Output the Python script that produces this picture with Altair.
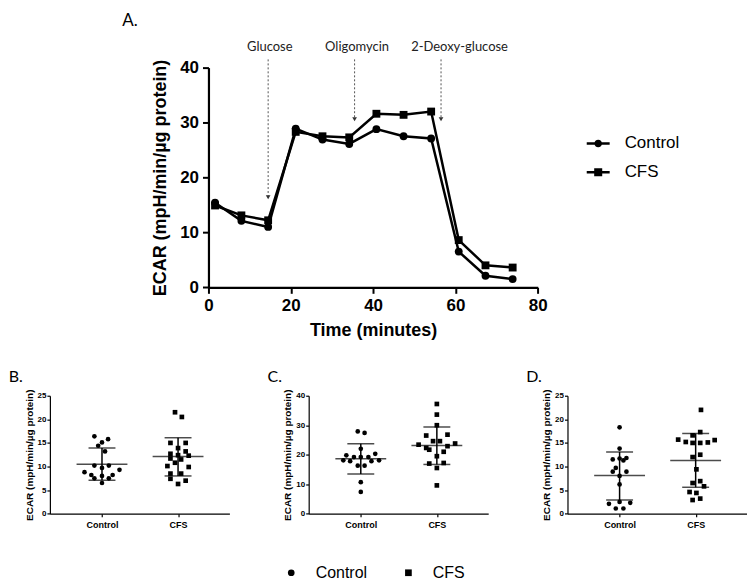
import altair as alt
import pandas as pd

# ---------------- Panel A: ECAR time course ----------------
time_min = [1.6, 8.0, 14.5, 21.2, 27.7, 34.2, 40.8, 47.4, 54.1, 60.8, 67.3, 73.9]
ecar_control = [15.4, 12.1, 11.0, 28.9, 26.9, 26.1, 28.8, 27.5, 27.1, 6.5, 2.1, 1.5]
ecar_cfs = [14.9, 13.1, 12.2, 28.3, 27.5, 27.3, 31.6, 31.4, 32.0, 8.6, 4.0, 3.6]
groups = ["Control", "CFS"]

injections = ["Glucose", "Oligomycin", "2-Deoxy-glucose"]
injection_time = [14.5, 35.5, 56.5]
arrow_tip = [16.4, 30.6, 30.6]
arrow_top = [41.5, 41.5, 41.5]
label_time = [14.9, 36.1, 61.0]
label_level = [43.8, 43.8, 43.8]

# ---------------- Panels B-D: individual values (jitter offset, value) ----------------
b_ctrl_val = [16.4, 15.8, 15.1, 14.4, 13.2, 10.2, 10.2, 9.7, 8.8, 9.3, 8.2, 8.2, 8.0, 7.5, 7.5, 6.5]
b_ctrl_off = [-0.10, 0.08, 0.0, -0.05, 0.04, -0.10, 0.09, 0.0, -0.23, 0.23, -0.14, 0.14, 0.0, -0.10, 0.09, 0.0]
b_cfs_val = [21.5, 20.5, 15.0, 15.0, 13.9, 13.2, 12.7, 12.4, 12.3, 11.7, 11.5, 10.8, 10.1, 9.9, 8.5, 8.5, 7.4, 7.0, 6.3]
b_cfs_off = [-0.04, 0.05, -0.10, 0.10, 0.0, 0.10, -0.10, 0.0, 0.14, -0.10, 0.04, -0.04, -0.14, 0.14, -0.10, 0.04, -0.10, 0.10, 0.0]

c_ctrl_val = [27.9, 27.4, 22.0, 19.8, 19.2, 19.2, 19.2, 20.3, 18.1, 17.8, 17.8, 18.1, 16.3, 16.3, 10.7, 7.4]
c_ctrl_off = [-0.04, 0.05, 0.0, -0.19, -0.09, 0.0, 0.10, 0.19, -0.23, -0.14, 0.14, 0.24, -0.04, 0.05, 0.0, 0.0]
c_cfs_val = [37.2, 33.6, 30.0, 26.5, 26.8, 24.6, 24.6, 23.4, 23.8, 22.3, 22.9, 21.7, 21.0, 19.5, 17.0, 17.2, 15.5, 9.6]
c_cfs_off = [0.0, 0.0, 0.0, -0.14, 0.14, -0.05, 0.04, -0.24, 0.24, -0.14, 0.14, -0.10, 0.09, 0.0, -0.10, 0.09, 0.0, 0.0]

d_ctrl_val = [18.3, 13.8, 11.5, 11.7, 11.3, 11.8, 9.7, 8.9, 8.9, 8.0, 6.2, 2.1, 2.5, 2.3, 1.1, 1.1]
d_ctrl_off = [0.0, 0.0, -0.09, 0.0, 0.05, 0.09, -0.05, -0.09, 0.09, 0.0, 0.0, -0.14, 0.0, 0.14, -0.05, 0.05]
d_cfs_val = [22.0, 17.3, 16.6, 15.7, 15.2, 15.0, 15.0, 15.1, 15.6, 12.0, 12.5, 9.4, 6.5, 6.9, 5.8, 4.6, 4.4, 2.9, 3.2]
d_cfs_off = [0.07, 0.06, -0.04, -0.23, -0.13, -0.04, 0.06, 0.16, 0.25, -0.04, 0.06, 0.01, -0.04, 0.06, 0.11, -0.08, 0.01, -0.04, 0.06]

# mean and SD limits [Control, CFS]
b_mean, b_hi, b_lo = [10.5, 12.1], [13.9, 16.1], [7.1, 8.0]
c_mean, c_hi, c_lo = [18.6, 23.1], [23.7, 29.4], [13.5, 16.7]
d_mean, d_hi, d_lo = [8.1, 11.3], [13.1, 17.0], [2.9, 5.6]

# ---------------- styling ----------------
AX_FONT = "Liberation Sans"
NOTE_FONT = "Lato"
YTITLE = "ECAR (mpH/min/µg protein)"
# legend glyphs: a short line with a marker on it (filled shapes only)
PATH_C = "M-1,-0.11H1V0.11H-1Z M0.33,0A0.33,0.33,0,1,1,-0.33,0A0.33,0.33,0,1,1,0.33,0Z"
PATH_S = "M-1,-0.11H1V0.11H-1Z M-0.35,-0.35H0.35V0.35H-0.35Z"

dfA = pd.DataFrame({
    "time": time_min * 2,
    "ecar": ecar_control + ecar_cfs,
    "series": ["Control"] * len(time_min) + ["CFS"] * len(time_min),
})
dfInj = pd.DataFrame({"name": injections, "t": injection_time, "tip": arrow_tip,
                      "top": arrow_top, "lt": label_time, "ly": label_level})


def xA(field):
    return alt.X(f"{field}:Q", scale=alt.Scale(domain=[0, 80], nice=False, zero=False),
                 axis=alt.Axis(values=[0, 20, 40, 60, 80], title="Time (minutes)", grid=False,
                               labelFont=AX_FONT, labelFontSize=17, labelFontWeight="bold",
                               labelColor="black", titleFont=AX_FONT, titleFontSize=18,
                               titleFontWeight="bold", titleColor="black", domainColor="black",
                               domainWidth=2.2, tickColor="black", tickWidth=2, tickSize=6,
                               labelPadding=4, titlePadding=8, labelFlush=False))


def yA(field):
    return alt.Y(f"{field}:Q", scale=alt.Scale(domain=[0, 40], nice=False, zero=False),
                 axis=alt.Axis(values=[0, 10, 20, 30, 40], title=YTITLE, grid=False,
                               labelFont=AX_FONT, labelFontSize=17, labelFontWeight="bold",
                               labelColor="black", titleFont=AX_FONT, titleFontSize=18,
                               titleFontWeight="bold", titleColor="black", domainColor="black",
                               domainWidth=2.2, tickColor="black", tickWidth=2, tickSize=6,
                               labelPadding=4, titlePadding=10, labelFlush=False))


baseA = alt.Chart(dfA)
linesA = baseA.mark_line(color="black", strokeWidth=2.5).encode(
    x=xA("time"), y=yA("ecar"), detail="series:N")
ptsA = baseA.mark_point(filled=True, opacity=1, color="black", size=62).encode(
    x=xA("time"), y=yA("ecar"),
    shape=alt.Shape("series:N", scale=alt.Scale(domain=groups, range=["circle", "square"]), legend=None))
legA = baseA.transform_filter("datum.time < -1000").mark_point(
    filled=True, color="black", opacity=1).encode(
    x=xA("time"), y=yA("ecar"),
    shape=alt.Shape("series:N", scale=alt.Scale(domain=groups, range=[PATH_C, PATH_S]),
                    legend=alt.Legend(title=None, orient="none", legendX=379.3, legendY=64.5,
                                      symbolSize=529, symbolStrokeWidth=0,
                                      symbolFillColor="black", symbolOpacity=1, labelFont=AX_FONT,
                                      labelFontSize=17, labelColor="black", labelOffset=15,
                                      rowPadding=9, padding=0)))
arrowsA = alt.Chart(dfInj).mark_rule(color="#555", strokeWidth=1, strokeDash=[2, 2]).encode(
    x=xA("t"), y=yA("top"), y2="tip:Q")
headsA = alt.Chart(dfInj).mark_point(shape="triangle-down", filled=True, color="#333",
                                     size=22, opacity=1).encode(x=xA("t"), y=yA("tip"))
labelsA = alt.Chart(dfInj).mark_text(font=NOTE_FONT, fontSize=13, color="#222",
                                     baseline="middle").encode(x=xA("lt"), y=yA("ly"), text="name:N")

chartA = alt.layer(linesA, ptsA, legA, arrowsA, headsA, labelsA).resolve_scale(
    shape="independent").properties(
    width=330.2, height=220.3,
    title=alt.TitleParams("A.", anchor="start", frame="group", dx=-86.5, offset=11,
                          font=NOTE_FONT, fontSize=17, fontWeight="normal", color="black"))

spacer = alt.Chart(pd.DataFrame({"s": [0]})).mark_text(text="").encode(
    x=alt.X("s:Q", axis=None), y=alt.Y("s:Q", axis=None)).properties(width=158.2, height=10)

row1 = alt.hconcat(spacer, chartA, spacing=0, bounds="flush")


# ---------------- scatter panels ----------------
def xP(field):
    return alt.X(f"{field}:Q", scale=alt.Scale(domain=[0.315, 2.675], nice=False, zero=False),
                 axis=alt.Axis(values=[1, 2], labelExpr="datum.value == 1 ? 'Control' : 'CFS'",
                               title=None, grid=False, labelFont=AX_FONT, labelFontSize=9,
                               labelFontWeight="bold", labelColor="black", domainColor="black",
                               domainWidth=1.2, tickColor="black", tickWidth=1.2, tickSize=3,
                               labelPadding=4, labelFlush=False))


def yP(field, ymax, step):
    return alt.Y(f"{field}:Q", scale=alt.Scale(domain=[0, ymax], nice=False, zero=False),
                 axis=alt.Axis(values=list(range(0, ymax + 1, step)), title=YTITLE, grid=False,
                               labelFont=AX_FONT, labelFontSize=8, labelFontWeight="bold",
                               labelColor="black", titleFont=AX_FONT, titleFontSize=10,
                               titleFontWeight="bold", titleColor="black", domainColor="black",
                               domainWidth=1.2, tickColor="black", tickWidth=1.2, tickSize=3,
                               labelPadding=1, titlePadding=3, labelFlush=False))


def panel(letter, ymax, step, cv, co, fv, fo, mean, hi, lo, legend):
    pts = pd.DataFrame({
        "group": ["Control"] * len(cv) + ["CFS"] * len(fv),
        "pos": [1 + o for o in co] + [2 + o for o in fo],
        "value": cv + fv,
    })
    summ = pd.DataFrame({"group": groups, "pos": [1, 2], "mean": mean, "hi": hi, "lo": lo})
    p = alt.Chart(pts).mark_point(filled=True, opacity=1, color="black", size=22).encode(
        x=xP("pos"), y=yP("value", ymax, step),
        shape=alt.Shape("group:N", scale=alt.Scale(domain=groups, range=["circle", "square"]),
                        legend=legend))
    sc = alt.Chart(summ)
    m = sc.mark_tick(orient="horizontal", size=51, thickness=1.5, color="black").encode(
        x=xP("pos"), y=yP("mean", ymax, step))
    capH = sc.mark_tick(orient="horizontal", size=27, thickness=1.5, color="black").encode(
        x=xP("pos"), y=yP("hi", ymax, step))
    capL = sc.mark_tick(orient="horizontal", size=27, thickness=1.5, color="black").encode(
        x=xP("pos"), y=yP("lo", ymax, step))
    sd = sc.mark_rule(color="black", strokeWidth=1.5).encode(
        x=xP("pos"), y=yP("lo", ymax, step), y2="hi:Q")
    return alt.layer(p, sd, m, capH, capL).properties(
        width=180, height=118.3,
        title=alt.TitleParams(letter, anchor="start", frame="group", dx=-41.3, offset=4,
                              font=NOTE_FONT, fontSize=16, fontWeight="normal", color="black"))


bottom_legend = alt.Legend(title=None, orient="none", legendX=-25.5, legendY=169.5,
                           direction="horizontal", symbolSize=45, labelFont=AX_FONT,
                           labelFontSize=16, labelColor="black", labelOffset=16.5,
                           columnPadding=32.5, padding=0, symbolFillColor="black",
                           symbolStrokeWidth=0, symbolOpacity=1)

chartB = panel("B.", 25, 5, b_ctrl_val, b_ctrl_off, b_cfs_val, b_cfs_off, b_mean, b_hi, b_lo, None)
chartC = panel("C.", 40, 10, c_ctrl_val, c_ctrl_off, c_cfs_val, c_cfs_off, c_mean, c_hi, c_lo, bottom_legend)
chartD = panel("D.", 25, 5, d_ctrl_val, d_ctrl_off, d_cfs_val, d_cfs_off, d_mean, d_hi, d_lo, None)

row2 = alt.hconcat(chartB, chartC, chartD, spacing=79.5, bounds="flush").resolve_scale(
    shape="independent").resolve_legend(shape="independent")

chart = alt.vconcat(row1, row2, spacing=29).properties(
    padding={"top": 3, "left": 0, "right": 0, "bottom": 0}).configure_view(stroke=None)

chart.save("out.html", embed_options={"renderer": "svg", "actions": False})
